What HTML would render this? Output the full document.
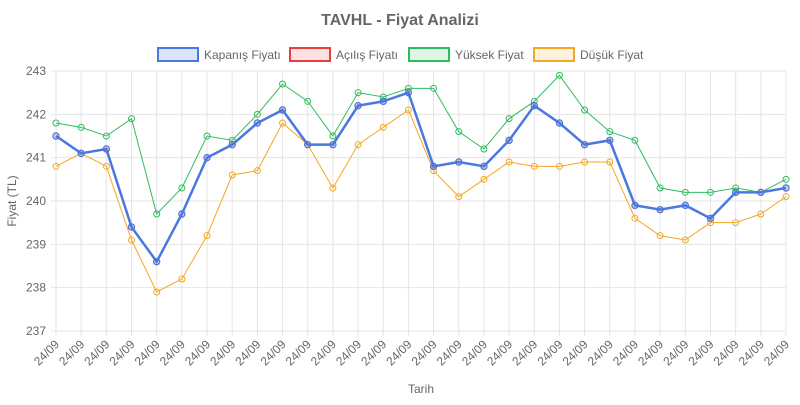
<!DOCTYPE html>
<html><head><meta charset="utf-8"><style>
body{margin:0;background:#fff;font-family:"Liberation Sans",sans-serif}
svg text{font-family:"Liberation Sans",sans-serif}
</style></head><body>
<svg id="c" width="800" height="400" xmlns="http://www.w3.org/2000/svg"></svg>
<script>
const close=[241.5,241.1,241.2,239.4,238.6,239.7,241.0,241.3,241.8,242.1,241.3,241.3,242.2,242.3,242.5,240.8,240.9,240.8,241.4,242.2,241.8,241.3,241.4,239.9,239.8,239.9,239.6,240.2,240.2,240.3];
const high=[241.8,241.7,241.5,241.9,239.7,240.3,241.5,241.4,242.0,242.7,242.3,241.5,242.5,242.4,242.6,242.6,241.6,241.2,241.9,242.3,242.9,242.1,241.6,241.4,240.3,240.2,240.2,240.3,240.2,240.5];
const low=[240.8,241.1,240.8,239.1,237.9,238.2,239.2,240.6,240.7,241.8,241.3,240.3,241.3,241.7,242.1,240.7,240.1,240.5,240.9,240.8,240.8,240.9,240.9,239.6,239.2,239.1,239.5,239.5,239.7,240.1];
const x0=56,x1=786,yT=71,yB=331,n=30;
const X=i=>x0+i*(x1-x0)/(n-1), Y=v=>yB-(v-237)*(yB-yT)/6;
let s='';
s+='<text x="400" y="25" text-anchor="middle" font-size="16" font-weight="bold" fill="#666">TAVHL - Fiyat Analizi</text>';
for(let k=0;k<=6;k++){const y=Y(237+k);s+=`<line x1="${x0-5}" x2="${x1}" y1="${y}" y2="${y}" stroke="#e5e5e5"/>`;s+=`<text x="${x0-10}" y="${y+4}" text-anchor="end" font-size="12" fill="#666">${237+k}</text>`;}
for(let i=0;i<n;i++){const x=X(i);s+=`<line x1="${x}" x2="${x}" y1="${yT}" y2="${yB+5}" stroke="#e5e5e5"/>`;s+=`<text transform="translate(${x+4},${yB+14}) rotate(-45)" text-anchor="end" font-size="12" fill="#666">24/09</text>`;}
function line(d,c,w,r,f){let p=d.map((v,i)=>`${X(i)},${Y(v)}`).join(' ');s+=`<polyline points="${p}" fill="none" stroke="${c}" stroke-width="${w}"/>`;d.forEach((v,i)=>s+=`<circle cx="${X(i)}" cy="${Y(v)}" r="${r}" fill="${f||'none'}" stroke="${c}" stroke-width="1"/>`);}
line(high,'#2ebd5e',1,3);line(low,'#f5a623',1,3);line(close,'#ea3d3d',1,3);line(close,'#4a78e0',2.5,3.2,'rgba(74,120,224,0.3)');
s+='<text x="0" y="0" transform="translate(16,201) rotate(-90)" text-anchor="middle" font-size="12" fill="#666">Fiyat (TL)</text>';
s+='<text x="421" y="393" text-anchor="middle" font-size="12" fill="#666">Tarih</text>';
const lg=[[158,'Kapanış Fiyatı','#4a78e0','rgba(74,120,224,0.2)'],[290,'Açılış Fiyatı','#ea3d3d','rgba(234,61,61,0.15)'],[409,'Yüksek Fiyat','#2ebd5e','rgba(46,189,94,0.15)'],[534,'Düşük Fiyat','#f5a623','rgba(245,166,35,0.15)']];
lg.forEach(([x,t,c,f])=>{s+=`<rect x="${x}" y="48" width="40" height="13" fill="${f}" stroke="${c}" stroke-width="2"/>`;s+=`<text x="${x+46}" y="59" font-size="12" fill="#666">${t}</text>`;});
document.getElementById('c').innerHTML=s;
</script>
</body></html>
